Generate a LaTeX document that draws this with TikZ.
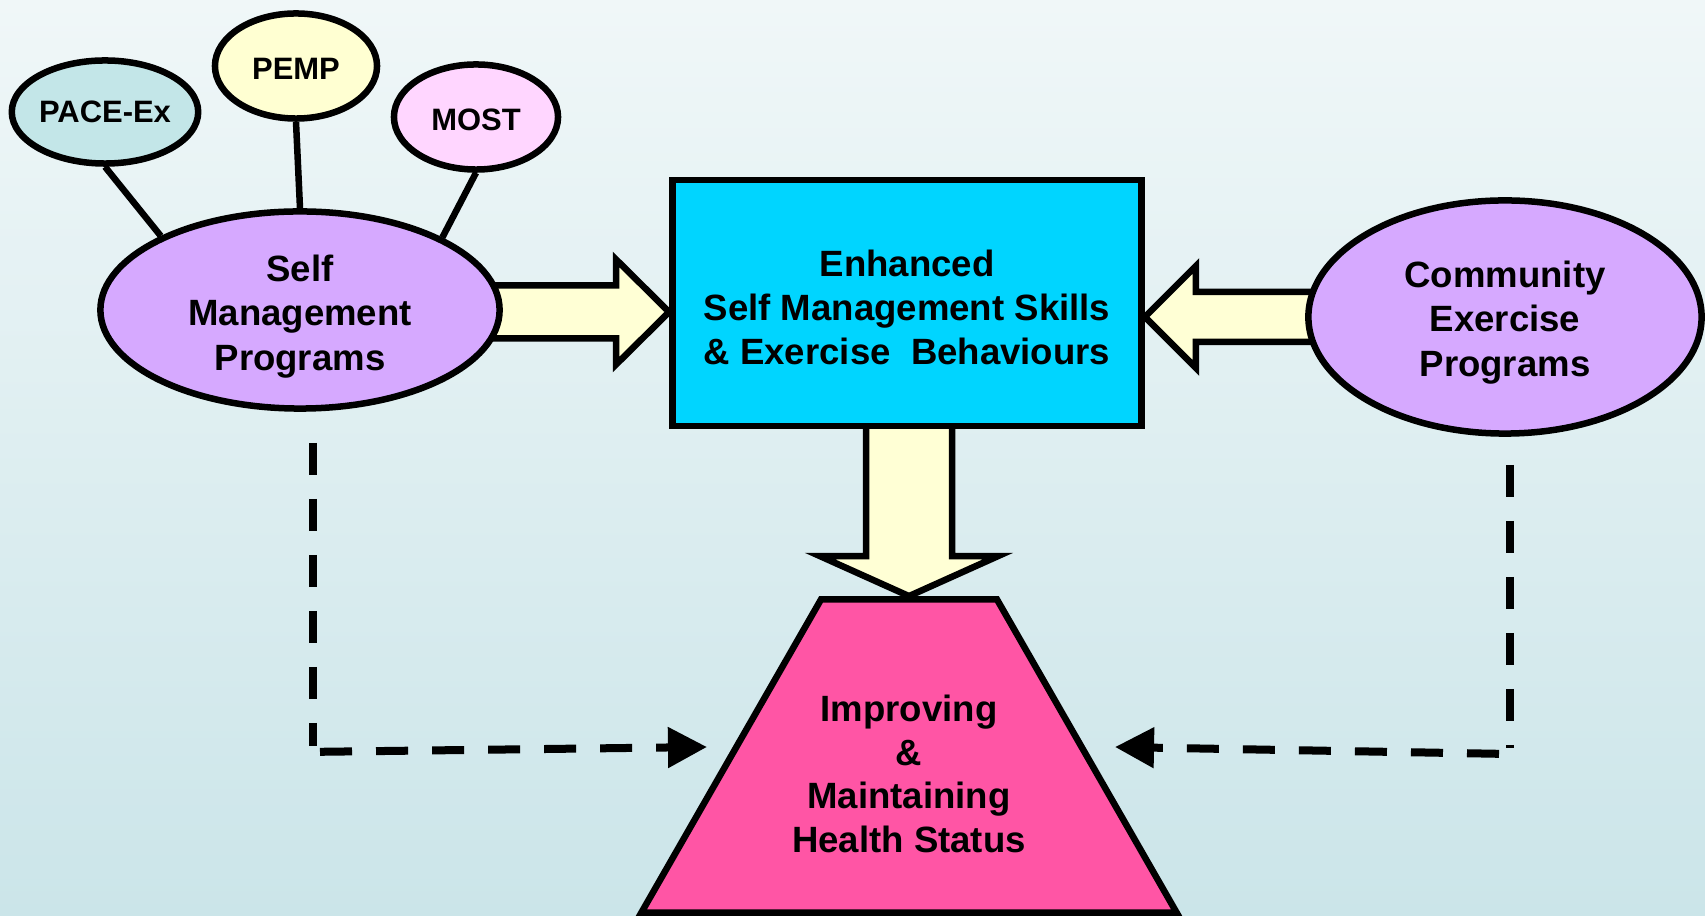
\documentclass[tikz,border=0pt]{standalone}
\usepackage{fontspec}
\setmainfont{Liberation Sans}
\usetikzlibrary{shapes.geometric,arrows.meta,calc}

\pgfdeclarelayer{back}
\pgfdeclarelayer{behind}
\pgfsetlayers{back,behind,main}

\definecolor{bgtop}{HTML}{F0F7F8}
\definecolor{bgbot}{HTML}{CBE5E9}
\definecolor{pacefill}{HTML}{C3E6E8}
\definecolor{pempfill}{HTML}{FFFFD2}
\definecolor{mostfill}{HTML}{FFD6FF}
\definecolor{lavender}{HTML}{D6A9FF}
\definecolor{skyblue}{HTML}{00D5FF}
\definecolor{hotpink}{HTML}{FF55A5}
\definecolor{arrowfill}{HTML}{FFFFD5}

% strut to push the first line down a little
\newcommand{\lift}[1]{\rule{0pt}{#1}}

\tikzset{
  oval/.style={ellipse, draw, line width=0.065cm, align=center, inner sep=0pt,
    font=\bfseries\fontsize{10.4}{12.6}\selectfont},
  smalloval/.style={oval, font=\bfseries\fontsize{8.8}{10}\selectfont},
  blockarrow/.style={draw, line width=0.065cm, fill=arrowfill, line join=miter},
  dashline/.style={line width=0.08cm, dash pattern=on 0.32cm off 0.24cm},
  dasharrow/.style={dashline, -{Triangle[length=0.39cm, width=0.39cm]}}
}

\begin{document}
\begin{tikzpicture}[x=0.01cm, y=-0.01cm]
    \useasboundingbox (0,0) rectangle (1705,916);

    % Background
    \begin{pgfonlayer}{back}
      \shade[top color=bgtop, bottom color=bgbot] (0,0) rectangle (1705,916);
    \end{pgfonlayer}

    % Programs
    \node[smalloval, fill=pacefill, minimum width=1.78cm, minimum height=1.03cm] (pace) at (105,112) {PACE-Ex};
    \node[smalloval, fill=pempfill, minimum width=1.62cm, minimum height=1.05cm] (pemp) at (296,66) {\lift{7.5pt}PEMP};
    \node[smalloval, fill=mostfill, minimum width=1.64cm, minimum height=1.05cm] (most) at (476,117) {\lift{7.5pt}MOST};
    \node[oval, fill=lavender, minimum width=3.99cm, minimum height=1.97cm] (smp) at (300,310)
      {\lift{11.3pt}Self\\Management\\Programs};
    \node[oval, fill=lavender, minimum width=3.93cm, minimum height=2.33cm] (cep) at (1505,317)
      {\lift{10.7pt}Community\\Exercise\\Programs};

    % Skills box
    \node[draw, line width=0.065cm, fill=skyblue, minimum width=4.69cm, minimum height=2.46cm, align=center,
      font=\bfseries\fontsize{10.4}{12.6}\selectfont] (esm) at (907,303)
      {\lift{10.1pt}Enhanced\\Self Management Skills\\\& Exercise\ \ Behaviours};

    % Health status
    \node[trapezium, draw, line width=0.065cm, fill=hotpink, trapezium angle=44.4, trapezium stretches=true,
      minimum width=5.35cm, minimum height=3.13cm] (hs) at (909,756) {};
    \node[align=center, font=\bfseries\fontsize{10.4}{12.4}\selectfont] (hstxt) at (909,774)
      {Improving\\\&\\Maintaining\\Health Status};

    % Spokes
    \draw[line width=0.065cm] (pace.south) -- (smp.152);
    \draw[line width=0.065cm] (pemp.south) -- (smp.north);
    \draw[line width=0.065cm] (most.south) -- (smp.27);

    % Block arrows
    \begin{pgfonlayer}{behind}
      \coordinate (ltip) at ($(esm.west)+(0,9)$);
      \draw[blockarrow] (ltip) -- ++(-53,-52.5) -- ++(0,26) -- ++(-200,0) -- ++(0,53)
        -- ++(200,0) -- ++(0,26) -- cycle;
      \coordinate (rtip) at ($(esm.east)+(0,14)$);
      \draw[blockarrow] (rtip) -- ++(51,-51) -- ++(0,26) -- ++(200,0) -- ++(0,50)
        -- ++(-200,0) -- ++(0,26) -- cycle;
      \coordinate (dtip) at (hs.north);
      \draw[blockarrow] (dtip) -- ++(-89,-40) -- ++(46,0) -- ++(0,-145) -- ++(86,0)
        -- ++(0,145) -- ++(46,0) -- cycle;
    \end{pgfonlayer}

    % Dashed links
    \coordinate (lstart) at ($(smp.south)+(13,31)$);
    \coordinate (lend) at ($(lstart)+(0,303)$);
    \coordinate (lfrom) at ($(lend)+(7,6)$);
    \coordinate (lto) at (707,747);
    \draw[dashline] (lstart) -- (lend);
    \draw[dasharrow] (lfrom) -- (lto);

    \coordinate (rstart) at ($(cep.south)+(5,28)$);
    \coordinate (rend) at ($(rstart)+(0,283)$);
    \coordinate (rfrom) at ($(rend)+(-11,6)$);
    \coordinate (rto) at (1115,747);
    \draw[dashline] (rstart) -- (rend);
    \draw[dasharrow] (rfrom) -- (rto);
\end{tikzpicture}
\end{document}
